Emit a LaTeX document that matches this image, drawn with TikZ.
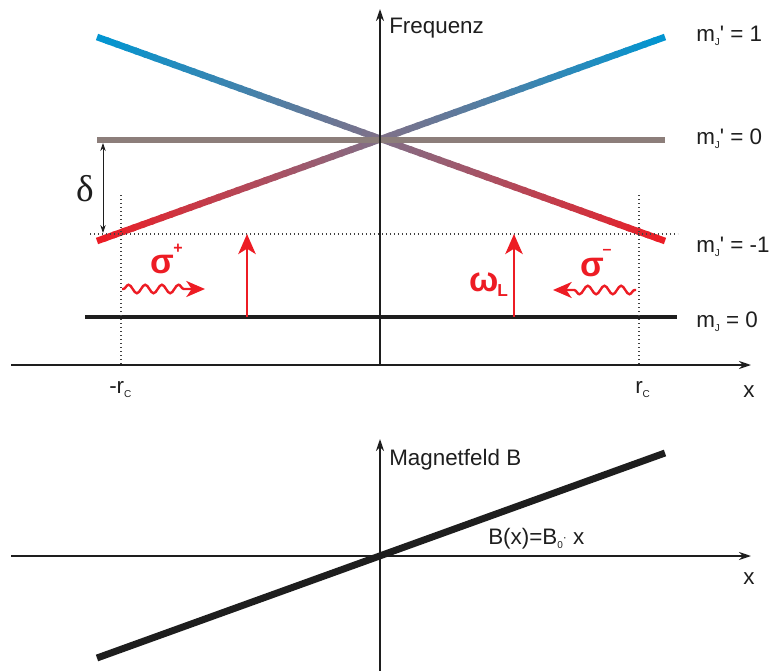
\documentclass[tikz,border=0pt]{standalone}
\usepackage{fontspec}
\setmainfont{Liberation Sans}
\newfontfamily\seriffont{Liberation Serif}
\usetikzlibrary{arrows.meta,calc,decorations.pathmorphing}
\definecolor{cblue}{RGB}{0,150,210}
\definecolor{cred}{RGB}{237,28,36}
\definecolor{cgray}{RGB}{140,126,122}
\definecolor{cmid}{RGB}{128,112,136}
\definecolor{cblack}{RGB}{30,30,30}
\newcommand{\smallsub}[1]{\raisebox{-3pt}{\fontsize{7.5}{8}\selectfont #1}}
\tikzset{
  axisline/.style={cblack, line width=1.1pt, -{Stealth[length=9pt,width=6pt]}},
  dotline/.style={line width=0.8pt, dash pattern=on 0.6pt off 2.4pt, black!75},
  redarrow/.style={cred, line width=2.2pt, -{Stealth[length=15pt,width=13pt,inset=4pt]}},
  wavearrow/.style={cred, line width=1.8pt, -{Stealth[length=14pt,width=12pt,inset=4pt]},
    decorate, decoration={snake, amplitude=3.2pt, segment length=12.5pt, pre length=1pt, post length=12pt}},
  lbl/.style={font=\fontsize{16.8}{19}\selectfont, inner sep=0pt, anchor=base west, text=cblack},
  greek/.style={font=\fontsize{26}{28}\selectfont\bfseries, inner sep=0pt, anchor=base west, text=cred},
  greeksup/.style={font=\fontsize{12}{13}\selectfont\bfseries, inner sep=0pt, text=cred},
}
\begin{document}
\begin{tikzpicture}[x=0.75pt,y=-0.75pt]
\useasboundingbox (0,0) rectangle (769,671);
% coordinates
\coordinate (ua0) at (380,365); \coordinate (ua1) at (380,9);
\coordinate (ux0) at (11,365);  \coordinate (ux1) at (751,365);
\coordinate (la0) at (380,671); \coordinate (la1) at (380,439);
\coordinate (lx0) at (11,556);  \coordinate (lx1) at (751,556);
\coordinate (A0) at (97,37);  \coordinate (A1) at (665,241);
\coordinate (B0) at (665,37); \coordinate (B1) at (97,241);
\coordinate (g0) at (97,140); \coordinate (g1) at (665,140);
\coordinate (k0) at (85,317); \coordinate (k1) at (677,317);
\coordinate (dh0) at (90,234); \coordinate (dh1) at (678,234);
\coordinate (dl0) at (121,195); \coordinate (dl1) at (121,365);
\coordinate (dr0) at (639,195); \coordinate (dr1) at (639,365);
\coordinate (d0) at (103,143); \coordinate (d1) at (103,233);
\coordinate (ra0) at (247,317); \coordinate (ra1) at (247,234);
\coordinate (rb0) at (514,317); \coordinate (rb1) at (514,234);
\coordinate (w0) at (122,289); \coordinate (w1) at (205,289);
\coordinate (v0) at (636,290); \coordinate (v1) at (553,290);
\coordinate (bl0) at (97,658); \coordinate (bl1) at (665,453);
% gradient diagonal lines
\foreach \s/\e in {A0/A1,B0/B1}{
  \foreach \i in {0,...,59}{
    \pgfmathsetmacro{\ta}{\i/60}
    \pgfmathsetmacro{\tb}{min(1,(\i+1.3)/60)}
    \pgfmathsetmacro{\tm}{(\i+0.5)/60}
    \ifdim\tm pt<0.5pt
      \pgfmathsetmacro{\pc}{200*\tm}
      \colorlet{segc}{cmid!\pc!cblue}
    \else
      \pgfmathsetmacro{\pc}{200*\tm-100}
      \colorlet{segc}{cred!\pc!cmid}
    \fi
    \draw[segc, line width=5pt] ($(\s)!\ta!(\e)$) -- ($(\s)!\tb!(\e)$);
  }
}
% gray level
\draw[cgray, line width=5pt] (g0) -- (g1);
% ground level
\draw[cblack, line width=3.6pt] (k0) -- (k1);
% dotted guides
\draw[dotline] (dh0) -- (dh1);
\draw[dotline] (dl0) -- (dl1);
\draw[dotline] (dr0) -- (dr1);
% axes upper
\draw[axisline] (ua0) -- (ua1);
\draw[axisline] (ux0) -- (ux1);
% delta arrow
\draw[cblack, line width=0.6pt, {Stealth[length=6pt,width=4pt]}-{Stealth[length=6pt,width=4pt]}] (d0) -- (d1);
% red arrows
\draw[redarrow] (ra0) -- (ra1);
\draw[redarrow] (rb0) -- (rb1);
\draw[wavearrow] (w0) -- (w1);
\draw[wavearrow] (v0) -- (v1);
% lower plot
\draw[axisline] (la0) -- (la1);
\draw[axisline] (lx0) -- (lx1);
\draw[cblack, line width=5.2pt] (bl0) -- (bl1);
% labels
\node[lbl] (freq) at (389,33) {Frequenz};
\node[lbl] (m1) at (696,41) {m\smallsub{J}\textquotesingle{} = 1};
\node[lbl] (m0) at (696,144) {m\smallsub{J}\textquotesingle{} = 0};
\node[lbl] (mm1) at (696,252) {m\smallsub{J}\textquotesingle{} = -1};
\node[lbl] (mg) at (696,327) {m\smallsub{J} = 0};
\node[lbl] (rcl) at (109,393) {-r\smallsub{C}};
\node[lbl] (rcr) at (635,393) {r\smallsub{C}};
\node[lbl] (xu) at (743,397) {x};
\node[lbl] (xl) at (743,584) {x};
\node[lbl] (mag) at (389,465) {Magnetfeld B};
\node[lbl] (bx) at (488,544) {B(x)=B\smallsub{0}\raisebox{2pt}{\fontsize{9}{9}\selectfont\textperiodcentered} x};
\node[inner sep=0pt, font=\seriffont\fontsize{28}{30}\selectfont, text=cblack] (delta) at (85,189) {δ};
\node[greek] (sp) at (150,273) {σ};
\node[greeksup] (spp) at (178,249) {+};
\node[greek] (sm) at (580,276) {σ};
\node[greeksup] (smm) at (607,252) {–};
\node[greek] (om) at (469,291) {ω};
\node[inner sep=0pt, anchor=base west, font=\fontsize{13}{14}\selectfont\bfseries, text=cred] (omL) at (497,296) {L};
\end{tikzpicture}
\end{document}
